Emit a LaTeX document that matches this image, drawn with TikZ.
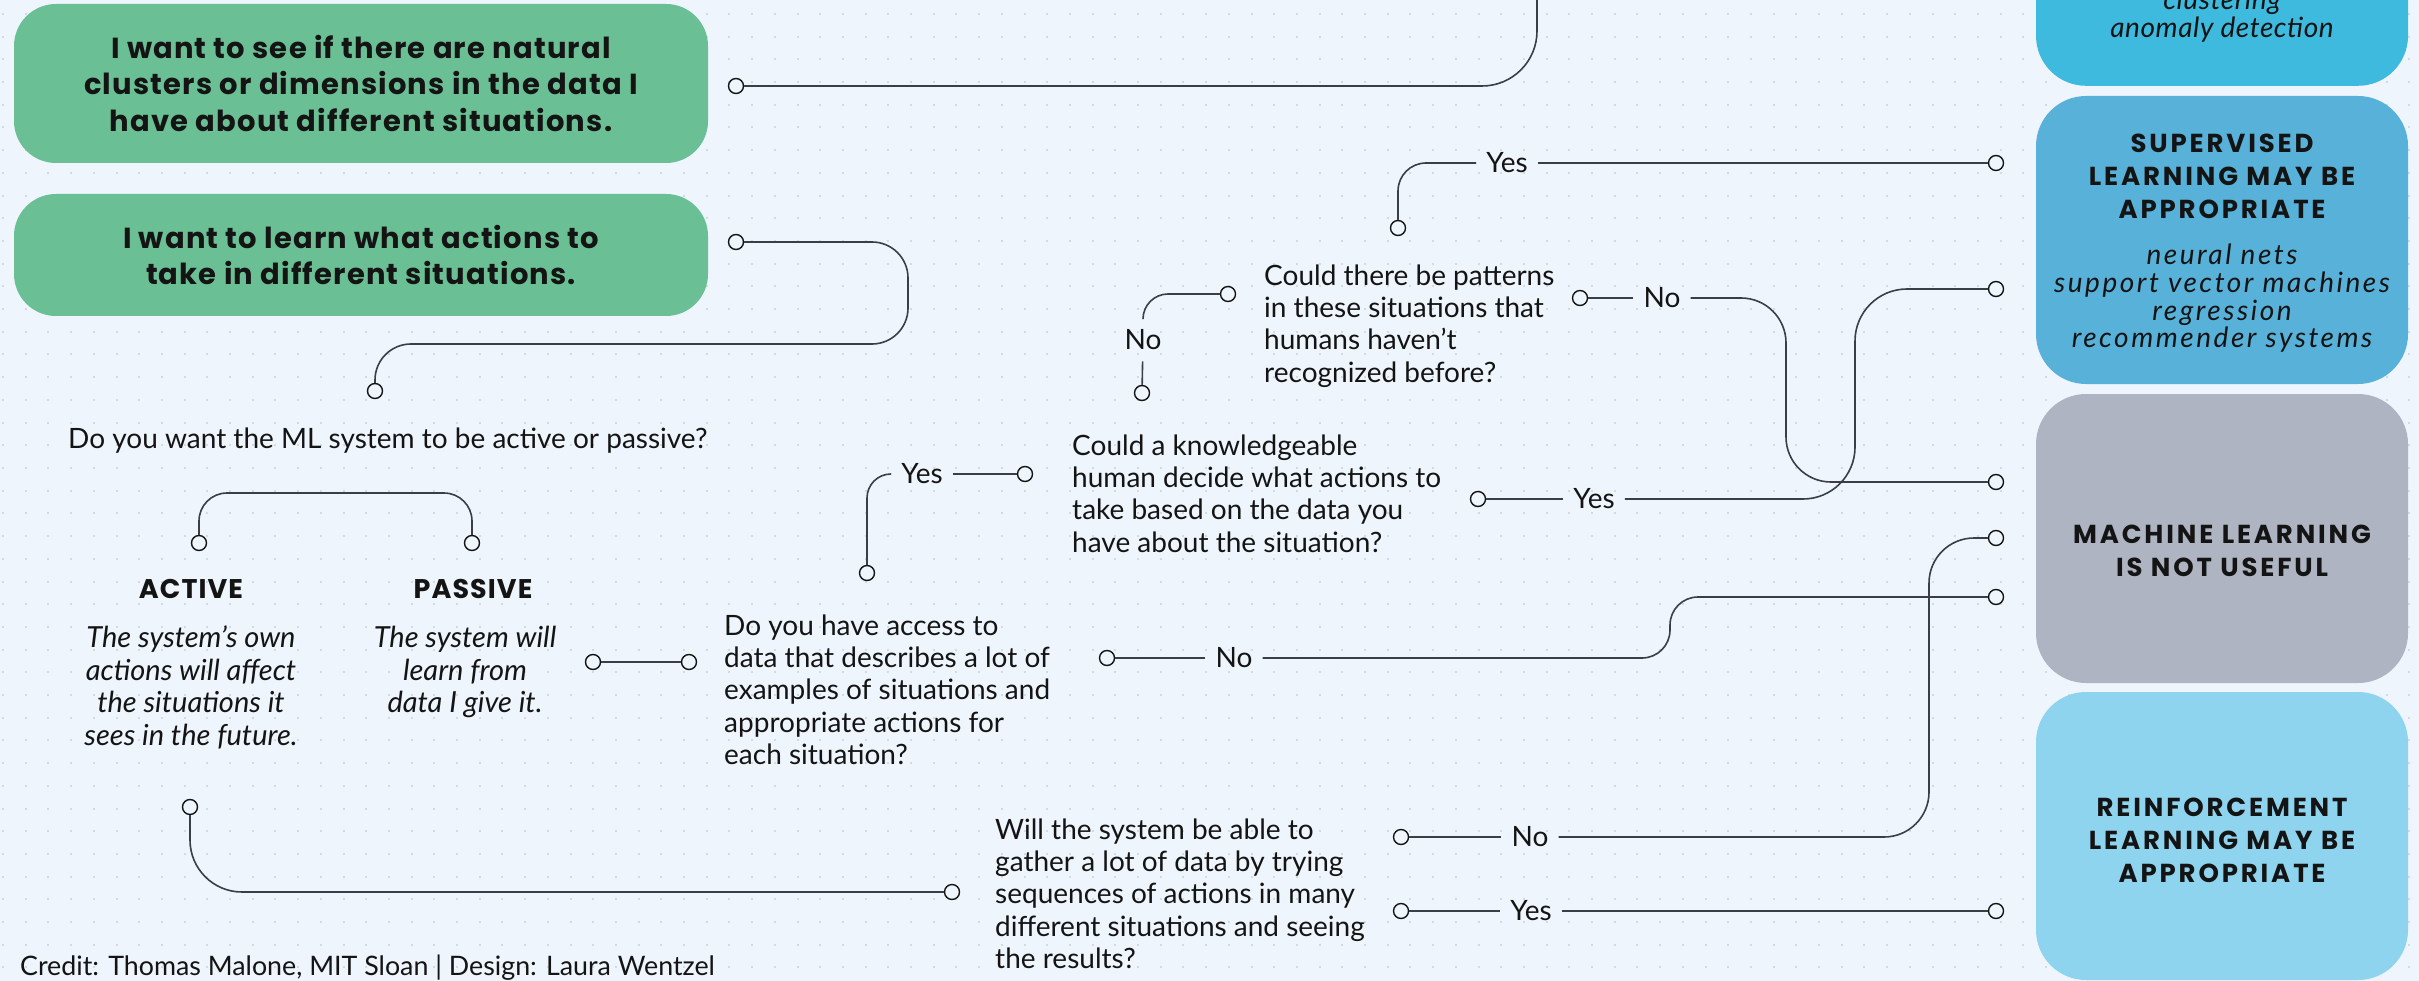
\documentclass[tikz,border=0pt]{standalone}
\usepackage{fontspec}
\setmainfont{Lato}
\newfontfamily\poppins{Poppins}
\usetikzlibrary{calc}

\definecolor{cBg}{HTML}{EEF5FC}
\definecolor{cDot}{HTML}{D3DAE1}
\definecolor{cInk}{HTML}{141414}
\definecolor{cWire}{HTML}{3A3F46}
\definecolor{cGreen}{HTML}{6ABF94}
\definecolor{cUnsup}{HTML}{3DBADD}
\definecolor{cSup}{HTML}{58B1D9}
\definecolor{cNone}{HTML}{AEB4C1}
\definecolor{cReinf}{HTML}{8FD4EF}

\newcommand\qfont{\fontsize{28}{32.3}\selectfont}
\newcommand\choicefont{\fontsize{29}{36.5}\selectfont\poppins\bfseries\addfontfeatures{LetterSpace=4}}
\newcommand\headfont{\fontsize{26}{33}\selectfont\poppins\bfseries\addfontfeatures{LetterSpace=11}}
\newcommand\listfont{\fontsize{28}{27.7}\selectfont\itshape\addfontfeatures{LetterSpace=9}}
\newcommand\toplistfont{\fontsize{28}{27.7}\selectfont\itshape\addfontfeatures{LetterSpace=2}}
\newcommand\descfont{\fontsize{29}{32.5}\selectfont\itshape}
\newcommand\tagfont{\fontsize{27}{32}\selectfont\poppins\bfseries\addfontfeatures{LetterSpace=4}}
\newcommand\creditfont{\fontsize{26.8}{30}\selectfont}

\begin{document}
\begin{tikzpicture}[x=1pt, y=-1pt,
  pin/.style={circle, draw=cInk, fill=cBg, line width=1.4pt, minimum size=15pt, inner sep=0pt},
  wire/.style={draw=cWire, line width=1.6pt},
  answer/.style={font=\qfont, text=cInk, inner xsep=10pt, inner ysep=11pt},
  question/.style={font=\qfont, text=cInk, align=left, inner sep=0pt, anchor=north west},
  choicebox/.style={fill=cGreen, rounded corners=42pt, inner sep=0pt, minimum width=694pt,
    align=center, font=\choicefont, text=cInk},
  endbox/.style={rounded corners=50pt, minimum width=372pt, inner sep=0pt},
  endhead/.style={font=\headfont, text=cInk, align=center, inner sep=0pt},
  endlist/.style={font=\listfont, text=cInk, align=center, inner sep=0pt, anchor=north},
  desc/.style={font=\descfont, text=cInk, align=center, inner sep=0pt, anchor=north},
  tag/.style={font=\tagfont, text=cInk, inner sep=0pt, anchor=base}
]
\useasboundingbox (0,0) rectangle (2419,981);
\clip (0,0) rectangle (2419,981);

% paper and dot grid
\fill[cBg] (0,0) rectangle (2419,981);
\foreach \j in {0,...,42}
  \draw[cDot, line width=2pt, dash pattern=on 2pt off 20.7pt] (2,{14+22.7*\j}) -- (2419,{14+22.7*\j});

% starting points
\node[choicebox, minimum height=159pt] (seeClusters) at (361,83.5)
  {I want to see if there are natural\\clusters or dimensions in the data I\\have about different situations.};
\node[choicebox, minimum height=122pt] (learnActions) at (361,255)
  {I want to learn what actions to\\take in different situations.};

% outcomes
\node[endbox, fill=cUnsup, minimum height=320pt, anchor=south] (unsup) at (2222,86) {};
\node[endlist, font=\toplistfont, anchor=north] (unsupList) at (2222,-11) {clustering\\anomaly detection};

\node[endbox, fill=cSup, minimum height=288pt] (sup) at (2222,240) {};
\node[endhead] (supHead) at (2222,176) {SUPERVISED\\LEARNING MAY BE\\APPROPRIATE};
\node[endlist] (supList) at (2222,244)
  {neural nets\\support vector machines\\regression\\recommender systems};

\node[endbox, fill=cNone, minimum height=289pt] (none) at (2222,538.5) {};
\node[endhead] (noneHead) at (2222,551) {MACHINE LEARNING\\IS NOT USEFUL};

\node[endbox, fill=cReinf, minimum height=288pt] (reinf) at (2222,836) {};
\node[endhead] (reinfHead) at (2222,840) {REINFORCEMENT\\LEARNING MAY BE\\APPROPRIATE};

% questions
\node[question, anchor=base west] (qMode) at (68,448)
  {Do you want the ML system to be active or passive?};
\node[question] (qData) at (724,614.5)
  {Do you have access to\\data that describes a lot of\\examples of situations and\\appropriate actions for\\each situation?};
\node[question] (qHuman) at (1072,434.5)
  {Could a knowledgeable\\human decide what actions to\\take based on the data you\\have about the situation?};
\node[question] (qPatterns) at (1264,264.5)
  {Could there be patterns\\in these situations that\\humans haven’t\\recognized before?};
\node[question] (qGather) at (995,818.5)
  {Will the system be able to\\gather a lot of data by trying\\sequences of actions in many\\different situations and seeing\\the results?};

% active / passive
\node[tag] (activeTag) at (191,598) {ACTIVE};
\node[tag] (passiveTag) at (473,598) {PASSIVE};
\node[desc] (activeDesc) at (191,626)
  {The system’s own\\actions will affect\\the situations it\\sees in the future.};
\node[desc] (passiveDesc) at (465,626)
  {The system will\\learn from\\data I give it.};

% answer labels
\node[answer] (yA) at (922,474) {Yes};
\node[answer] (nA) at (1143,340) {No};
\node[answer] (yB) at (1507,163) {Yes};
\node[answer] (nB) at (1662,298) {No};
\node[answer] (yC) at (1594,499) {Yes};
\node[answer] (nC) at (1234,658) {No};
\node[answer] (nD) at (1530,837) {No};
\node[answer] (yD) at (1531,911) {Yes};

% connector ends
\node[pin] (a1) at (736,86) {};
\node[pin] (b1) at (736,242) {};
\node[pin] (b2) at (375,391) {};
\node[pin] (act) at (199,543) {};
\node[pin] (pas) at (472,543) {};
\node[pin] (p1) at (593,662) {};
\node[pin] (p2) at (689,662) {};
\node[pin] (d1) at (867,573) {};
\node[pin] (d2) at (1107,658) {};
\node[pin] (h1) at (1025,474) {};
\node[pin] (h2) at (1142,393) {};
\node[pin] (h3) at (1478,499) {};
\node[pin] (t1) at (1228,294) {};
\node[pin] (t2) at (1398,228) {};
\node[pin] (t3) at (1580,298) {};
\node[pin] (a2) at (190,807) {};
\node[pin] (g1) at (952,892) {};
\node[pin] (g2) at (1401,837) {};
\node[pin] (g3) at (1401,911) {};
\node[pin] (s1) at (1996,163) {};
\node[pin] (s2) at (1996,289) {};
\node[pin] (m1) at (1996,482) {};
\node[pin] (m3) at (1996,538) {};
\node[pin] (m2) at (1996,597) {};
\node[pin] (r1) at (1996,911) {};
\coordinate (topExit) at (1537,-60);

% connectors
\draw[wire, rounded corners=55pt] (a1) -- (1537,86) -- (topExit);
\draw[wire, rounded corners=36pt] (b1) -- (908,242) -- (908,344) -- (375,344) -- (b2);
\draw[wire, rounded corners=28pt] (act) -- (199,493) -- (472,493) -- (pas);
\draw[wire] (p1) -- (p2);
\draw[wire, rounded corners=24pt] (d1) |- (yA);
\draw[wire] (yA) -- (h1);
\draw[wire] (h2) -- (nA);
\draw[wire, rounded corners=25pt] (nA) |- (t1);
\draw[wire, rounded corners=28pt] (t2) |- (yB);
\draw[wire] (yB) -- (s1);
\draw[wire] (t3) -- (nB);
\draw[wire, rounded corners=45pt] (nB) -- (1786,298) -- (1786,482) -- (m1);
\draw[wire] (h3) -- (yC);
\draw[wire, rounded corners=52pt] (yC) -- (1855,499) -- (1855,289) -- (s2);
\draw[wire] (d2) -- (nC);
\draw[wire, rounded corners=28pt] (nC) -- (1670,658) -- (1670,597) -- (m2);
\draw[wire, rounded corners=52pt] (a2) |- (g1);
\draw[wire] (g2) -- (nD);
\draw[wire, rounded corners=45pt] (nD) -- (1929,837) -- (1929,538) -- (m3);
\draw[wire] (g3) -- (yD);
\draw[wire] (yD) -- (r1);

% credit line
\node[font=\creditfont, text=cInk, inner sep=0pt, anchor=base west] (credit) at (20,975)
  {Credit: Thomas Malone, MIT Sloan | Design: Laura Wentzel};
\end{tikzpicture}
\end{document}
